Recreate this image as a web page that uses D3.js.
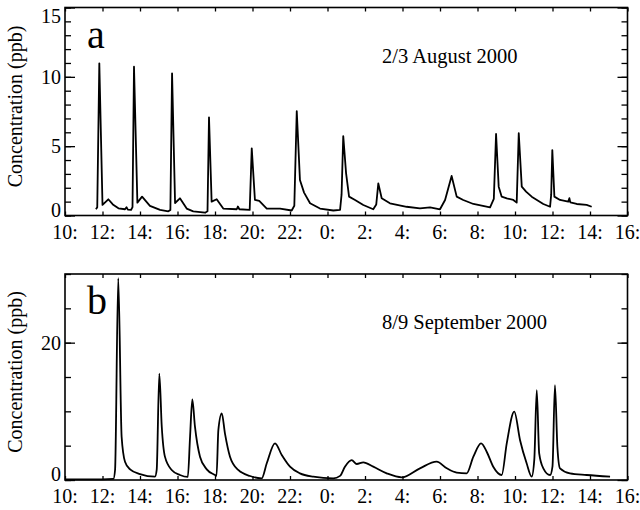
<!DOCTYPE html>
<html>
<head>
<meta charset="utf-8">
<script src="https://cdn.jsdelivr.net/npm/d3@7"></script>
<style>
  body { margin: 0; background: #fff; }
  text { font-family: "Liberation Serif", "Times New Roman", serif; fill: #000; }
</style>
</head>
<body>
<div id="chart-area"></div>
<script>
// Datos (hora decimal desde las 0:00 del primer dia, ppb)
var aTime = [11.65, 11.72, 11.83, 12.0, 12.31, 12.55, 12.85, 13.2, 13.28, 13.35, 13.52, 13.6, 13.68, 13.86, 14.11, 14.53, 15.07, 15.51, 15.62, 15.71, 15.87, 16.13, 16.49, 16.84, 17.47, 17.6, 17.68, 17.82, 18.09, 18.44, 19.16, 19.22, 19.3, 19.85, 19.96, 20.13, 20.36, 20.76, 21.47, 22.09, 22.23, 22.36, 22.53, 22.75, 23.07, 23.6, 24.31, 24.67, 24.75, 24.84, 24.99, 25.15, 25.47, 25.91, 26.44, 26.6, 26.71, 26.89, 27.33, 28.22, 28.93, 29.47, 30.0, 30.27, 30.62, 30.89, 31.24, 31.78, 32.67, 32.87, 32.99, 33.13, 33.29, 33.56, 33.91, 34.09, 34.2, 34.36, 34.59, 34.89, 35.51, 35.87, 35.93, 35.99, 36.1, 36.4, 36.84, 36.9, 36.95, 37.29, 37.82, 38.09];
var aConc = [0.45, 0.6, 10.97, 0.76, 1.17, 0.8, 0.52, 0.45, 0.6, 0.42, 0.4, 0.6, 10.73, 0.93, 1.36, 0.7, 0.4, 0.3, 0.4, 10.25, 0.9, 1.24, 0.5, 0.3, 0.2, 0.3, 7.08, 1.0, 1.17, 0.5, 0.45, 0.65, 0.45, 0.4, 4.84, 1.12, 1.05, 0.5, 0.5, 0.36, 0.7, 7.53, 2.56, 1.65, 0.88, 0.5, 0.36, 0.4, 1.5, 5.73, 3.06, 1.36, 1.12, 0.76, 0.45, 0.8, 2.32, 1.24, 0.88, 0.63, 0.52, 0.59, 0.45, 1.12, 2.85, 1.36, 1.12, 0.83, 0.59, 1.2, 5.88, 2.08, 1.36, 1.24, 1.12, 0.93, 5.93, 2.08, 1.72, 1.36, 0.83, 0.63, 1.5, 4.72, 1.36, 1.12, 1.0, 1.25, 0.95, 0.83, 0.76, 0.63];

var bTime = [10.0, 11.0, 12.0, 12.58, 12.67, 12.84, 13.02, 13.2, 13.47, 14.0, 14.8, 14.89, 15.03, 15.16, 15.33, 15.69, 16.13, 16.55, 16.67, 16.79, 16.93, 17.2, 17.56, 18.0, 18.08, 18.18, 18.36, 18.53, 18.8, 19.24, 19.87, 20.49, 20.76, 21.2, 21.56, 22.0, 22.53, 23.24, 24.31, 24.67, 24.93, 25.29, 25.56, 25.91, 26.44, 27.16, 27.96, 28.93, 29.82, 30.36, 30.89, 31.42, 31.78, 32.19, 32.49, 32.84, 33.29, 33.56, 33.96, 34.27, 34.62, 34.89, 35.03, 35.16, 35.29, 35.51, 35.87, 36.0, 36.13, 36.26, 36.4, 36.93, 37.82, 39.07];
var bConc = [0.1, 0.1, 0.1, 0.15, 1.46, 29.4, 6.3, 2.67, 1.55, 0.87, 0.49, 1.46, 15.5, 7.8, 3.4, 1.46, 0.73, 0.45, 6.3, 11.75, 7.8, 3.4, 1.55, 0.73, 0.6, 7.3, 9.7, 6.8, 3.4, 1.46, 0.58, 0.25, 2.43, 5.34, 3.64, 1.94, 0.97, 0.49, 0.25, 0.6, 1.94, 2.9, 2.33, 2.58, 1.94, 0.97, 0.39, 1.7, 2.67, 1.7, 1.07, 0.97, 3.4, 5.34, 4.12, 1.94, 0.73, 5.34, 9.95, 5.8, 2.43, 0.49, 3.0, 13.1, 3.88, 1.7, 0.73, 2.0, 13.83, 4.85, 1.7, 0.97, 0.73, 0.49];

var xTicks = [10, 12, 14, 16, 18, 20, 22, 24, 26, 28, 30, 32, 34, 36, 38, 40];
var xTickLabels = ["10:", "12:", "14:", "16:", "18:", "20:", "22:", "0:", "2:", "4:", "6:", "8:", "10:", "12:", "14:", "16:"];
var aYTicks = [0, 5, 10, 15];
var bYTicks = [0, 20];

var width = 640, height = 510;
var left = 65, right = 627.5;

var svg = d3.select("#chart-area").append("svg")
    .attr("width", width)
    .attr("height", height);

var x = d3.scaleLinear().domain([10, 40]).range([left, right]);

function panel(opts) {
    var y = d3.scaleLinear().domain(opts.yDomain).range([opts.bottom, opts.top]);
    var g = svg.append("g");

    // ticks menores y mayores en Y (izquierda y derecha, hacia dentro)
    var minor = d3.range(opts.yDomain[0], opts.yDomain[1] + 0.001, opts.minorStep);
    g.append("g")
        .attr("transform", "translate(" + left + ",0)")
        .call(d3.axisLeft(y).tickValues(minor).tickSize(-6).tickFormat(""));
    g.append("g")
        .attr("transform", "translate(" + left + ",0)")
        .call(d3.axisLeft(y).tickValues(opts.yTicks).tickSize(-10).tickFormat(""));
    g.append("g")
        .attr("transform", "translate(" + right + ",0)")
        .call(d3.axisRight(y).tickValues(minor).tickSize(-6).tickFormat(""));
    g.append("g")
        .attr("transform", "translate(" + right + ",0)")
        .call(d3.axisRight(y).tickValues(opts.yTicks).tickSize(-10).tickFormat(""));

    // ticks X arriba y abajo
    g.append("g")
        .attr("transform", "translate(0," + opts.bottom + ")")
        .call(d3.axisBottom(x).tickValues(xTicks).tickSize(-4).tickFormat(""));
    g.append("g")
        .attr("transform", "translate(0," + opts.top + ")")
        .call(d3.axisTop(x).tickValues(xTicks).tickSize(-4).tickFormat(""));

    g.selectAll(".domain").remove();
    g.selectAll(".tick line").attr("stroke", "#000").attr("stroke-width", 1.3);

    // marco
    g.append("rect")
        .attr("x", left).attr("y", opts.top)
        .attr("width", right - left).attr("height", opts.bottom - opts.top)
        .attr("fill", "none").attr("stroke", "#000").attr("stroke-width", 1.6);

    // etiquetas Y
    g.selectAll(".ylab").data(opts.yTicks).enter().append("text")
        .attr("class", "ylab")
        .attr("x", left - 4)
        .attr("y", function(d) { return Math.min(Math.max(y(d), opts.top + 8), opts.bottom - 6); })
        .attr("dy", "0.35em")
        .attr("text-anchor", "end")
        .attr("font-size", "20px")
        .text(function(d) { return d; });

    // etiquetas X
    g.selectAll(".xlab").data(xTicks).enter().append("text")
        .attr("class", "xlab")
        .attr("x", function(d) { return x(d); })
        .attr("y", opts.bottom + 16)
        .attr("dy", "0.35em")
        .attr("text-anchor", "middle")
        .attr("font-size", "20px")
        .text(function(d, i) { return xTickLabels[i]; });

    // titulo eje Y
    g.append("text")
        .attr("transform", "translate(22," + ((opts.top + opts.bottom) / 2 - 5) + ") rotate(-90)")
        .attr("text-anchor", "middle")
        .attr("font-size", "20px")
        .text("Concentration (ppb)");

    // letra del panel
    g.append("text")
        .attr("x", 87).attr("y", opts.top + 40)
        .attr("font-size", "40px")
        .text(opts.letter);

    // fecha
    g.append("text")
        .attr("x", 382).attr("y", opts.top + 55)
        .attr("font-size", "20.5px")
        .text(opts.date);

    // linea
    var line = d3.line()
        .x(function(d) { return x(d[0]); })
        .y(function(d) { return y(d[1]); })
        .curve(opts.curve);
    g.append("path")
        .datum(d3.zip(opts.time, opts.conc))
        .attr("d", line)
        .attr("fill", "none")
        .attr("stroke", "#000")
        .attr("stroke-width", 1.8)
        .attr("stroke-linejoin", "round");
}

panel({ top: 7.5, bottom: 215.5, yDomain: [0, 15], yTicks: aYTicks, minorStep: 1,
        letter: "a", date: "2/3 August 2000", time: aTime, conc: aConc, curve: d3.curveLinear });
panel({ top: 274, bottom: 480, yDomain: [0, 30], yTicks: bYTicks, minorStep: 5,
        letter: "b", date: "8/9 September 2000", time: bTime, conc: bConc, curve: d3.curveMonotoneX });
</script>
</body>
</html>
